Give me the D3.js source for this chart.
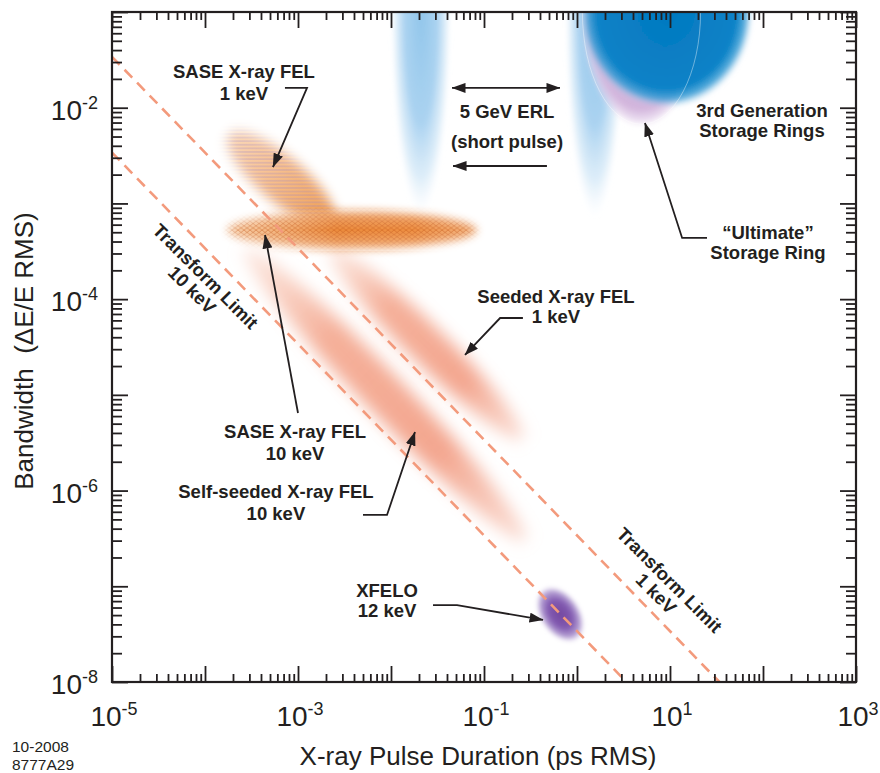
<!DOCTYPE html>
<html><head><meta charset="utf-8">
<script src="https://cdn.jsdelivr.net/npm/d3@7"></script>
<style>
html,body{margin:0;padding:0;background:#fff;}
svg{display:block;font-family:"Liberation Sans",Arial,Helvetica,sans-serif;}
</style></head><body>
<svg id="chart" width="880" height="773"></svg>
<script>
// ================= DATA =================
const xDomain = [1e-5, 1e3];            // X-ray pulse duration (ps RMS)
const yDomain = [1e-8, 1e-1];           // bandwidth dE/E RMS
const xLabelTicks = [1e-5, 1e-3, 1e-1, 1e1, 1e3];
const yLabelTicks = [1e-8, 1e-6, 1e-4, 1e-2];

// transform limit: pulse * bandwidth = constant
const limitNames = ["10 keV", "1 keV"];
const limitProducts = [3.4e-8, 3.4e-7];

// ERL short-pulse modes
const erlPulseCenter = [0.021, 1.55];
const erlPulseSpan = [[0.011, 0.040], [0.80, 2.8]];
const erlMinBandwidth = [9.2e-4, 8.5e-4];

// storage rings (ultimate, 3rd generation)
const ringNames = ["Ultimate storage ring", "3rd generation storage rings"];
const ringPulseSpan = [[1.16, 21], [1.16, 72]];
const ringMinBandwidth = [7.1e-3, 1.12e-2];

// diagonal FEL streaks
const streakNames = ["Self-seeded X-ray FEL 10 keV", "Seeded X-ray FEL 1 keV", "SASE X-ray FEL 1 keV"];
const streakPulseStart = [2.4e-4, 1.95e-3, 1.73e-4];
const streakBwStart    = [3.7e-4, 3.7e-4, 5.45e-3];
const streakPulseEnd   = [0.31, 0.29, 2.5e-3];
const streakBwEnd      = [2.7e-7, 3.1e-6, 5.96e-4];

// SASE X-ray FEL 10 keV band
const sase10PulseSpan = [1.73e-4, 0.084];
const sase10BandwidthSpan = [3.5e-4, 7.9e-4];

// XFELO 12 keV
const xfeloPulse = 0.66;
const xfeloBandwidth = 5.1e-8;

// annotations: text lines, anchor (pulse, bandwidth), leader path
const annTexts = [
  ["SASE X-ray FEL", "1 keV"],
  ["5 GeV ERL", "(short pulse)"],
  ["3rd Generation", "Storage Rings"],
  ["\u201CUltimate\u201D", "Storage Ring"],
  ["Seeded X-ray FEL", "1 keV"],
  ["SASE X-ray FEL", "10 keV"],
  ["Self-seeded X-ray FEL", "10 keV"],
  ["XFELO", "12 keV"]
];
const annAnchor = [[2.62e-4, 2.05e-2], [0.177, 7.82e-3], [97.5, 8.0e-3], [113, 4.25e-4],
                   [0.594, 9.12e-5], [9.29e-4, 3.54e-6], [5.79e-4, 8.36e-7], [9.06e-3, 7.73e-8]];
const annLeader = [
  [[7.24e-4, 1.61e-2], [1.25e-3, 1.61e-2], [5.38e-4, 2.40e-3]],
  null,
  null,
  [[25.0, 4.36e-4], [13.5, 4.36e-4], [5.38, 6.92e-3]],
  [[0.262, 6.35e-5], [0.149, 6.35e-5], [0.0625, 2.61e-5]],
  [[1.0e-3, 6.46e-6], [4.42e-4, 4.68e-4]],
  [[5.0e-3, 5.56e-7], [9.06e-3, 5.56e-7], [0.0181, 4.09e-6]],
  [[0.0283, 6.37e-8], [0.0513, 6.37e-8], [0.431, 4.45e-8]]
];
const erlDoubleArrow = [[0.0453, 1.61e-2], [0.656, 1.61e-2]];
const erlLeftArrow = [[0.475, 2.46e-3], [0.0465, 2.46e-3]];
const limitLabelAnchor = [[9.06e-5, 1.55e-4], [8.83, 1.04e-7]];

// ================= DRAWING =================
const INK = "#231f20";
const svg = d3.select("#chart");
const defs = svg.append("defs");
const x = d3.scaleLog().domain(xDomain).range([112, 856]);
const y = d3.scaleLog().domain(yDomain).range([682, 12]);
const X0 = x.range()[0], X1 = x.range()[1], Y0 = y.range()[1], Y1 = y.range()[0];

defs.append("clipPath").attr("id", "plotClip").append("rect")
  .attr("x", X0).attr("y", Y0).attr("width", X1 - X0).attr("height", Y1 - Y0);

function blur(id, sd) {
  const f = defs.append("filter").attr("id", id)
    .attr("x", "-100%").attr("y", "-100%").attr("width", "300%").attr("height", "300%");
  f.append("feGaussianBlur").attr("stdDeviation", sd);
}
blur("b2", 2); blur("b3", 3); blur("b4", 4); blur("b6", 6); blur("b8", 8);

function radial(id, stops) {
  const g = defs.append("radialGradient").attr("id", id);
  stops.forEach(([o, c, a]) => g.append("stop").attr("offset", o).attr("stop-color", c).attr("stop-opacity", a));
}
function linear(id, stops, vertical) {
  const g = defs.append("linearGradient").attr("id", id)
    .attr("x1", 0).attr("y1", 0).attr("x2", vertical ? 0 : 1).attr("y2", vertical ? 1 : 0);
  stops.forEach(([o, c, a]) => g.append("stop").attr("offset", o).attr("stop-color", c).attr("stop-opacity", a));
}
radial("erlGrad", [[0, "#8cc3ea", 0.95], [0.55, "#9ccbee", 0.85], [0.82, "#bddcf3", 0.5], [1, "#e3f0fa", 0]]);
radial("ringBlue", [[0, "#0479c0", 1], [0.8, "#0a82c7", 1], [0.91, "#3e9fd6", 0.85], [1, "#a8d2ee", 0]]);
radial("ringPurple", [[0, "#cdaed9", 1], [0.84, "#d3b6dd", 1], [0.93, "#e0cbe8", 0.7], [1, "#f0e6f5", 0]]);
radial("xfeloGrad", [[0, "#74489f", 1], [0.5, "#825ab1", 1], [0.82, "#a58bca", 0.8], [1, "#d3c5e6", 0]]);
linear("streakGrad", [[0, "#f7bda8", 0.35], [0.3, "#f3a288", 0.85], [0.7, "#f29f86", 0.92], [1, "#f5b4a0", 0.45]]);
linear("sase1Grad", [[0, "#fbe2cc", 1], [0.4, "#f8c496", 1], [0.8, "#f1a259", 1], [1, "#ee9344", 1]]);
linear("sase10Grad", [[0, "#f9dcc2", 1], [0.2, "#f5bd8c", 1], [0.45, "#ec8b3c", 1], [0.7, "#ee8f42", 1], [1, "#f6c49c", 1]]);
linear("sase10Vert", [[0, "#ffffff", 0.3], [0.5, "#ffffff", 0], [1, "#ffffff", 0.35]], true);

// stripe & crosshatch patterns
defs.append("pattern").attr("id", "stripes").attr("patternUnits", "userSpaceOnUse")
  .attr("width", 10).attr("height", 3.6)
  .append("path").attr("d", "M0,1.8 H10").attr("stroke", "#9a84c6").attr("stroke-width", 0.9).attr("stroke-opacity", 0.55);
const hatch = defs.append("pattern").attr("id", "hatch").attr("patternUnits", "userSpaceOnUse")
  .attr("width", 6).attr("height", 4.4);
hatch.append("path").attr("d", "M0,0 L6,4.4 M6,0 L0,4.4").attr("stroke", "#c4561a").attr("stroke-width", 0.8).attr("stroke-opacity", 0.55);

const plot = svg.append("g").attr("clip-path", "url(#plotClip)");

// ---- ERL ----
erlPulseCenter.forEach((p, i) => {
  const cx = x(p), half = (x(erlPulseSpan[i][1]) - x(erlPulseSpan[i][0])) / 2;
  const tip = y(erlMinBandwidth[i]);
  plot.append("ellipse").attr("cx", cx).attr("cy", Y0).attr("rx", half + 4).attr("ry", tip - Y0 + 8)
    .attr("fill", "url(#erlGrad)").attr("filter", "url(#b2)");
});

// ---- storage rings ----
const ringFills = ["url(#ringPurple)", "url(#ringBlue)"];
const ringGeom = ringNames.map((n, i) => {
  const a = x(ringPulseSpan[i][0]), b = x(ringPulseSpan[i][1]);
  return { cx: (a + b) / 2, rx: (b - a) / 2 / 0.96, ry: (y(ringMinBandwidth[i]) - Y0) / 0.95 };
});
ringGeom.forEach((g, i) => {
  plot.append("ellipse").attr("cx", g.cx).attr("cy", Y0).attr("rx", g.rx).attr("ry", g.ry)
    .attr("fill", ringFills[i]).attr("filter", "url(#b2)");
});
plot.append("ellipse").attr("cx", ringGeom[0].cx).attr("cy", Y0)
  .attr("rx", ringGeom[0].rx * 0.97).attr("ry", ringGeom[0].ry * 0.97)
  .attr("fill", "none").attr("stroke", "#fff").attr("stroke-opacity", 0.5).attr("stroke-width", 0.8);

// ---- streaks ----
const streakHalfWidth = [21, 19, 23];
function streakGeom(i) {
  const p0 = [x(streakPulseStart[i]), y(streakBwStart[i])];
  const p1 = [x(streakPulseEnd[i]), y(streakBwEnd[i])];
  const dx = p1[0] - p0[0], dy = p1[1] - p0[1];
  return { cx: (p0[0] + p1[0]) / 2, cy: (p0[1] + p1[1]) / 2,
           len: Math.hypot(dx, dy) / 2, ang: Math.atan2(dy, dx) * 180 / Math.PI };
}
[0, 1].forEach(i => {
  const g = streakGeom(i);
  plot.append("g").attr("transform", `translate(${g.cx},${g.cy}) rotate(${g.ang})`)
    .append("ellipse").attr("rx", g.len - 6).attr("ry", streakHalfWidth[i])
    .attr("fill", "url(#streakGrad)").attr("filter", "url(#b8)");
});

// masked (patterned) blob helper
function maskedBlob(id, cx, cy, ang, rx, ry, sd, fillId, patId, patRot) {
  const m = defs.append("mask").attr("id", id).attr("maskUnits", "userSpaceOnUse")
    .attr("x", -rx - 60).attr("y", -ry - 60).attr("width", 2 * rx + 120).attr("height", 2 * ry + 120);
  m.append("ellipse").attr("rx", rx).attr("ry", ry).attr("fill", "#fff").attr("filter", `url(#${sd})`);
  const g = plot.append("g").attr("transform", `translate(${cx},${cy}) rotate(${ang})`).attr("mask", `url(#${id})`);
  g.append("rect").attr("x", -rx - 30).attr("y", -ry - 30).attr("width", 2 * rx + 60).attr("height", 2 * ry + 60)
    .attr("fill", `url(#${fillId})`);
  const pr = g.append("g").attr("transform", `rotate(${patRot})`);
  pr.append("rect").attr("x", -rx - 80).attr("y", -rx - 80).attr("width", 2 * rx + 160).attr("height", 2 * rx + 160)
    .attr("fill", `url(#${patId})`);
  return g;
}
// SASE 1 keV
{
  const g = streakGeom(2);
  maskedBlob("mSase1", g.cx, g.cy, g.ang, g.len - 2, streakHalfWidth[2], "b6", "sase1Grad", "stripes", -g.ang);
}
// SASE 10 keV band
{
  const a = x(sase10PulseSpan[0]), b = x(sase10PulseSpan[1]);
  const t = y(sase10BandwidthSpan[1]), bo = y(sase10BandwidthSpan[0]);
  const gb = maskedBlob("mSase10", (a + b) / 2, (t + bo) / 2, 0, (b - a) / 2, (bo - t) / 2 + 2, "b4", "sase10Grad", "hatch", 0);
  gb.append("rect").attr("x", -(b - a) / 2 - 10).attr("y", -(bo - t) / 2 - 4).attr("width", b - a + 20).attr("height", bo - t + 8)
    .attr("fill", "url(#sase10Vert)");
}

// ---- XFELO ----
plot.append("g").attr("transform", `translate(${x(xfeloPulse)},${y(xfeloBandwidth)}) rotate(55)`)
  .append("ellipse").attr("rx", 31).attr("ry", 20).attr("fill", "url(#xfeloGrad)").attr("filter", "url(#b2)");

// ---- transform limit lines ----
limitProducts.forEach(k => {
  plot.append("line")
    .attr("x1", x(xDomain[0])).attr("y1", y(k / xDomain[0]))
    .attr("x2", x(k / yDomain[0])).attr("y2", y(yDomain[0]))
    .attr("stroke", "#f39a7c").attr("stroke-width", 2.6).attr("stroke-dasharray", "11 7");
});

// ---- axes ----
const allX = x.ticks(), allY = y.ticks();
const isMajor = v => Math.abs(Math.log10(v) - Math.round(Math.log10(v))) < 1e-6;
const majX = allX.filter(isMajor), minX = allX.filter(v => !isMajor(v));
const majY = allY.filter(isMajor), minY = allY.filter(v => !isMajor(v));
function axis(gen, vals, size, tr) {
  const g = svg.append("g").attr("transform", tr)
    .call(gen.tickValues(vals).tickSize(-size).tickFormat(""));
  g.select(".domain").remove();
  g.selectAll(".tick line").attr("stroke", INK).attr("stroke-width", 1.8);
}
axis(d3.axisBottom(x), minX, 8, `translate(0,${Y1})`);
axis(d3.axisBottom(x), majX, 16, `translate(0,${Y1})`);
axis(d3.axisTop(x), minX, 8, `translate(0,${Y0})`);
axis(d3.axisTop(x), majX, 16, `translate(0,${Y0})`);
axis(d3.axisLeft(y), minY, 10, `translate(${X0},0)`);
axis(d3.axisLeft(y), majY, 16, `translate(${X0},0)`);
axis(d3.axisRight(y), minY, 10, `translate(${X1},0)`);
axis(d3.axisRight(y), majY, 16, `translate(${X1},0)`);
svg.append("rect").attr("x", X0).attr("y", Y0).attr("width", X1 - X0).attr("height", Y1 - Y0)
  .attr("fill", "none").attr("stroke", INK).attr("stroke-width", 2.2);

// tick labels
function powLabel(sel, v) {
  const e = Math.round(Math.log10(v));
  sel.append("tspan").text("10");
  sel.append("tspan").attr("font-size", 18).attr("dy", -11).text(e);
}
xLabelTicks.forEach(v => {
  svg.append("text").attr("x", x(v) + 2).attr("y", Y1 + 44).attr("text-anchor", "middle")
    .attr("font-size", 28).attr("fill", INK).call(powLabel, v);
});
yLabelTicks.forEach(v => {
  svg.append("text").attr("x", X0 - 14).attr("y", y(v) + 12).attr("text-anchor", "end")
    .attr("font-size", 28).attr("fill", INK).call(powLabel, v);
});

// axis titles
svg.append("text").attr("x", (X0 + X1) / 2 - 6).attr("y", 765).attr("text-anchor", "middle")
  .attr("font-size", 26).attr("fill", INK).text("X-ray Pulse Duration (ps RMS)");
svg.append("text").attr("transform", `translate(33,${(Y0 + Y1) / 2 + 4}) rotate(-90)`).attr("text-anchor", "middle")
  .attr("font-size", 26).attr("fill", INK).attr("xml:space", "preserve").text("Bandwidth  (\u0394E/E RMS)");

// footer
svg.append("text").attr("x", 12).attr("y", 752).attr("font-size", 15.5).attr("fill", INK).text("10-2008");
svg.append("text").attr("x", 12).attr("y", 770).attr("font-size", 15.5).attr("fill", INK).text("8777A29");

// ---- annotations ----
defs.append("marker").attr("id", "ah").attr("viewBox", "0 0 14 10").attr("refX", 13.5).attr("refY", 5)
  .attr("markerWidth", 14).attr("markerHeight", 10).attr("markerUnits", "userSpaceOnUse")
  .attr("orient", "auto-start-reverse")
  .append("path").attr("d", "M0,0 L14,5 L0,10 Z").attr("fill", INK);
const lineGen = d3.line().x(d => x(d[0])).y(d => y(d[1]));
const lineGaps = [22, 30, 20, 20, 20, 22, 22, 20];
annTexts.forEach((lines, i) => {
  const t = svg.append("text").attr("text-anchor", "middle").attr("font-weight", "bold")
    .attr("font-size", 18.5).attr("fill", INK);
  lines.forEach((s, j) => t.append("tspan").attr("x", x(annAnchor[i][0]))
    .attr("y", y(annAnchor[i][1]) + j * lineGaps[i]).text(s));
  if (annLeader[i]) {
    svg.append("path").attr("d", lineGen(annLeader[i])).attr("fill", "none")
      .attr("stroke", INK).attr("stroke-width", 1.8).attr("marker-end", "url(#ah)");
  }
});
svg.append("path").attr("d", lineGen(erlDoubleArrow)).attr("fill", "none").attr("stroke", INK)
  .attr("stroke-width", 1.8).attr("marker-start", "url(#ah)").attr("marker-end", "url(#ah)");
svg.append("path").attr("d", lineGen(erlLeftArrow)).attr("fill", "none").attr("stroke", INK)
  .attr("stroke-width", 1.8).attr("marker-end", "url(#ah)");

// transform limit labels (rotated along lines)
limitLabelAnchor.forEach((a, i) => {
  const t = svg.append("text").attr("transform", `translate(${x(a[0])},${y(a[1])}) rotate(45)`)
    .attr("text-anchor", "middle").attr("font-weight", "bold").attr("font-size", 18.5).attr("fill", INK);
  t.append("tspan").attr("x", 0).attr("y", 0).text("Transform Limit");
  t.append("tspan").attr("x", 0).attr("y", 19).text(limitNames[i]);
});
</script>
</body></html>
